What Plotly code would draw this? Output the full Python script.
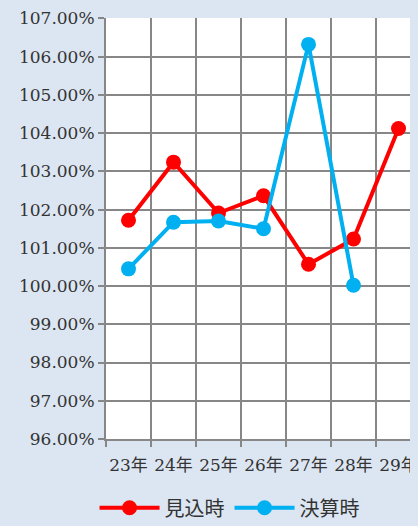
import plotly.graph_objects as go

years = ["23年", "24年", "25年", "26年", "27年", "28年", "29年"]
mikomi = [101.72, 103.24, 101.91, 102.36, 100.57, 101.23, 104.12]
kessan = [100.45, 101.67, 101.70, 101.50, 106.32, 100.02, None]
y_ticks = [96, 97, 98, 99, 100, 101, 102, 103, 104, 105, 106, 107]

font_family = "DejaVu Serif, Noto Sans CJK JP, serif"
bg = "#DCE6F2"

fig = go.Figure()
fig.add_trace(go.Scatter(
    x=years, y=mikomi, name="見込時", mode="lines+markers",
    line=dict(color="#FF0000", width=4),
    marker=dict(size=15, color="#FF0000"),
))
fig.add_trace(go.Scatter(
    x=years, y=kessan, name="決算時", mode="lines+markers",
    line=dict(color="#00B0F0", width=4),
    marker=dict(size=15, color="#00B0F0"),
))

fig.update_layout(
    width=418, height=526,
    margin=dict(l=98, r=8, t=10, b=95, autoexpand=False),
    paper_bgcolor=bg,
    plot_bgcolor="#FFFFFF",
    font=dict(family=font_family, size=17, color="#333333"),
    showlegend=True,
    legend=dict(
        orientation="h", x=0.53, xref="container", xanchor="center",
        y=0.05, yref="container", yanchor="middle",
        font=dict(size=20, color="#333333"),
        bgcolor="rgba(0,0,0,0)",
        itemwidth=60,
    ),
)
fig.update_xaxes(
    type="category", range=[-0.5, 6.433],
    tickson="boundaries", ticks="outside", ticklen=6, tickwidth=2,
    tickcolor="#878787", tickangle=0, ticklabelstandoff=10,
    showgrid=True, gridcolor="#878787", gridwidth=2,
    showline=True, linecolor="#878787", linewidth=2,
    tickfont=dict(size=17),
)
fig.update_yaxes(
    range=[96, 107.01], tickvals=y_ticks,
    ticktext=["%.2f%%" % v for v in y_ticks],
    ticks="outside", ticklen=6, tickwidth=2, tickcolor="#878787",
    showgrid=True, gridcolor="#878787", gridwidth=2,
    showline=True, linecolor="#878787", linewidth=2,
    zeroline=False,
    tickfont=dict(size=17),
)

# page margin shows around the figure, so paint it the same colour
fig.write_html("out.html", post_script="document.body.style.backgroundColor='%s';" % bg)
